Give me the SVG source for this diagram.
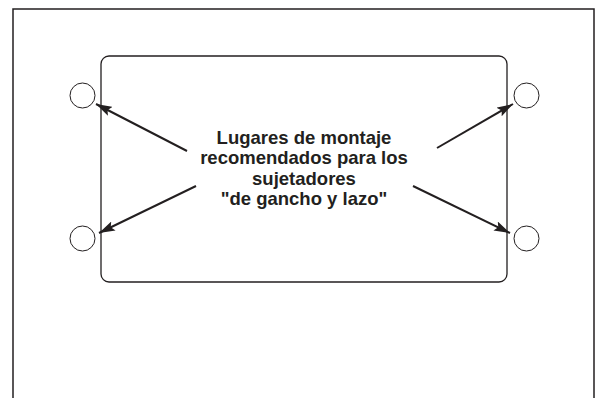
<svg xmlns="http://www.w3.org/2000/svg" width="595" height="398" viewBox="0 0 595 398">
<style>
.ln{stroke:#231f20;fill:none}
.txt{font-family:"Liberation Sans",Arial,sans-serif;font-weight:bold;font-size:18.5px;fill:#231f20;text-anchor:middle}
</style>
<defs>
<marker id="ah" viewBox="0 0 16 10" refX="16" refY="5" markerWidth="16" markerHeight="10" markerUnits="userSpaceOnUse" orient="auto">
<path d="M0,0 L16,5 L0,10 L3,5 Z" fill="#231f20"/>
</marker>
</defs>
<rect width="595" height="398" fill="#fff"/>
<path class="ln" stroke-width="1.5" d="M13,398 V9 H594 V398"/>
<g id="panel"><rect class="ln" stroke-width="1.3" x="101" y="56" width="406" height="226" rx="8"/></g>
<g id="c1"><circle class="ln" cx="82.5" cy="95.5" r="12.5"/></g>
<g id="c2"><circle class="ln" cx="526.5" cy="95.5" r="12.5"/></g>
<g id="c3"><circle class="ln" cx="82.5" cy="238.5" r="12.5"/></g>
<g id="c4"><circle class="ln" cx="526.5" cy="238.5" r="12.5"/></g>
<g id="label">
<text class="txt" x="304" y="143.5">Lugares de montaje</text>
<text class="txt" x="304" y="164">recomendados para los</text>
<text class="txt" x="304" y="184.5">sujetadores</text>
<text class="txt" x="304" y="205">"de gancho y lazo"</text>
</g>
<g id="connectors">
<line class="ln" stroke-width="2" x1="187" y1="151" x2="96" y2="104" marker-end="url(#ah)"/>
<line class="ln" stroke-width="2" x1="437" y1="148" x2="513" y2="104" marker-end="url(#ah)"/>
<line class="ln" stroke-width="2" x1="196" y1="186" x2="99" y2="233" marker-end="url(#ah)"/>
<line class="ln" stroke-width="2" x1="413" y1="186" x2="510" y2="233" marker-end="url(#ah)"/>
</g>
</svg>
